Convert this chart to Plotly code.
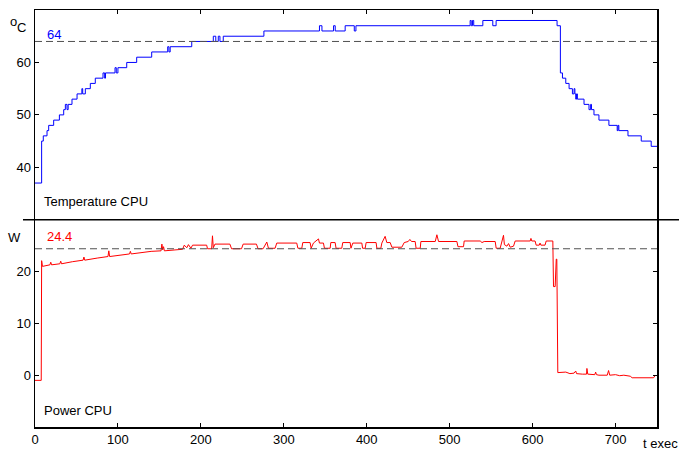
import plotly.graph_objects as go

# ---- data ----
temp_t = [0, 8, 10, 14.5, 16.5, 22.5, 29.4, 34.6, 36.6, 38.6, 40, 44.6, 50.7, 56.5, 57.5, 60.7,
          66.7, 72.7, 82, 84, 85, 96.5, 98, 100, 110.6, 122.6, 140.7, 160, 161.5, 163, 189,
          215, 218, 221, 223, 227, 276, 343, 346, 360, 362, 374, 385, 387, 524.7, 526, 527.5,
          529, 540, 552, 556, 629.5, 633.5, 636, 640, 644, 648, 650, 651, 652, 653, 654, 662,
          668, 670, 671, 674, 680, 692, 702, 703, 704, 715, 731, 743, 750]
temp_v = [37, 45, 46, 47, 48, 49, 50, 51, 52, 51, 52, 53, 54, 55, 54, 55,
          56, 57, 58, 57, 58, 59, 58, 59, 60, 61, 62, 63, 62, 63, 64,
          65, 64, 65, 64, 65, 66, 67, 66, 67, 66, 67, 66, 67, 68, 67, 68,
          67, 68, 67, 68, 67, 58, 57, 56, 55, 54, 55, 54, 53, 54, 53, 52,
          51, 52, 51, 50, 49, 48, 47, 48, 47, 46, 45, 44, 44]

power_t = [0, 7.5, 8, 9, 18, 19, 20, 30, 31, 32, 45, 58, 59, 60, 75, 88, 89, 90, 114, 115, 116,
           130, 140, 152, 153, 154, 155, 156, 178, 180, 183, 185, 188, 190, 207, 208, 213, 214,
           215, 217, 235, 237, 249, 251, 267, 269, 275, 279.5, 281.5, 289.5, 291.5,
           315.6, 317, 321.7, 322.9, 331.7, 333, 335.7, 341.8, 343, 347.8, 349, 355.9, 356.7,
           361.9, 363, 369.9, 371.1, 380, 381, 383.2, 394.1, 395, 398.1, 399.3, 411.3, 412.2,
           417, 418.2, 422.2, 424.2, 428.3, 430.3, 442.3, 445.2, 450, 452, 454, 458.4, 459.5,
           464.5, 465.3, 482.6, 484.6, 486.6, 508.7, 510, 516.7, 517.5, 536.8, 539, 541.6,
           554.9, 556.1, 560.9, 564.9, 566, 569, 571, 573, 577, 579, 597.1, 598, 599, 603,
           604.3, 608, 609, 610, 615, 616.4, 624.4, 625.2, 627.2, 628.5, 629.2, 630.4, 640,
           645, 650, 652, 653, 660, 665, 665.5, 666.5, 675, 676, 677, 680, 690, 691.6, 693,
           700, 705, 710, 717.8, 720, 745.9, 748]
power_v = [-1, -1, 22.1, 21.0, 21.3, 21.8, 21.3, 21.5, 22.0, 21.5, 21.9, 22.2, 22.8, 22.2, 22.6,
           22.9, 24.0, 22.9, 23.4, 23.9, 23.4, 23.7, 23.9, 24.0, 25.3, 24.2, 24.8, 24.0, 24.3,
           25.1, 24.6, 25.2, 24.5, 25.1, 25.1, 24.4, 24.4, 26.9, 24.6, 25.3, 25.3, 24.4, 24.4,
           25.3, 25.3, 24.4, 24.4, 25.7, 24.5, 24.5, 25.5,
           25.5, 24.5, 24.5, 25.6, 25.6, 24.5, 25.5, 26.3, 25.5, 25.5, 24.5, 24.5, 25.6,
           25.6, 24.5, 24.5, 25.6, 25.6, 24.5, 25.5, 25.5, 24.5, 24.5, 25.6, 25.6, 24.5,
           24.5, 25.5, 26.8, 25.6, 25.6, 24.7, 24.7, 25.6, 25.8, 26.2, 25.8, 25.8, 24.5,
           24.5, 25.8, 25.8, 27.1, 25.8, 25.8, 24.8, 24.8, 25.9, 25.9, 25.6, 25.8,
           25.8, 24.5, 24.5, 27.0, 25.2, 24.9, 25.4, 24.7, 24.9, 25.9, 25.9, 26.4, 25.9, 25.9,
           25.1, 25.1, 25.5, 25.1, 25.1, 25.9, 25.9, 17.1, 17.1, 22.4, 22.4, 0.5, 0.6,
           0.3, 0.4, 0.8, 0.3, 0.2, 0.2, 1.3, 0.2, 0.1, 0.6, 0.1, 0.0, 0.0, 0.9, 0.0,
           0.1, -0.1, 0.0, -0.2, -0.5, -0.5, 0.0]

temp_ref = 64
power_ref = 24.4
x_ticks = [0, 100, 200, 300, 400, 500, 600, 700]
temp_ticks = [40, 50, 60]
power_ticks = [0, 10, 20]

FONT = "Liberation Sans, Arial, sans-serif"
FS = 13

fig = go.Figure()
fig.add_trace(go.Scatter(x=temp_t, y=temp_v, mode="lines", line=dict(color="#0000ff", width=1, shape="hv"),
                         xaxis="x", yaxis="y", showlegend=False, hoverinfo="skip"))
fig.add_trace(go.Scatter(x=power_t, y=power_v, mode="lines", line=dict(color="#ff0000", width=1),
                         xaxis="x2", yaxis="y2", showlegend=False, hoverinfo="skip"))

split = 0.497
axcommon = dict(showgrid=False, zeroline=False, showline=True, linecolor="black", linewidth=1.5,
                ticks="inside", ticklen=4, tickcolor="black", tickwidth=1, automargin=False,
                tickfont=dict(family=FONT, size=FS, color="black"))

fig.update_layout(
    width=679, height=451,
    margin=dict(l=35, r=22, t=10, b=24),
    paper_bgcolor="white", plot_bgcolor="white",
    xaxis=dict(axcommon, range=[0, 750], tickvals=x_ticks, side="top", showticklabels=False,
               anchor="y", mirror=False),
    yaxis=dict(axcommon, range=[30, 70], tickvals=temp_ticks, domain=[split, 1], mirror="ticks",
               anchor="x"),
    xaxis2=dict(axcommon, range=[0, 750], tickvals=x_ticks, anchor="y2", mirror=False),
    yaxis2=dict(axcommon, range=[-10, 30], tickvals=power_ticks, domain=[0, split], mirror="ticks",
                anchor="x2"),
)

dash = dict(color="#505050", width=1, dash="7px,4px")
fig.add_shape(type="line", xref="x", yref="y", x0=0, x1=750, y0=temp_ref, y1=temp_ref, line=dash)
fig.add_shape(type="line", xref="x2", yref="y2", x0=0, x1=750, y0=power_ref, y1=power_ref, line=dash)
# separator between panels
fig.add_shape(type="line", xref="paper", yref="paper", x0=-0.0193, x1=1.04, y0=split, y1=split,
              line=dict(color="black", width=1.5))

def ann(text, x, y, xref, yref, color="black", xanchor="left", yanchor="middle"):
    fig.add_annotation(text=text, x=x, y=y, xref=xref, yref=yref, showarrow=False,
                       xanchor=xanchor, yanchor=yanchor,
                       font=dict(family=FONT, size=FS, color=color))

ann(str(temp_ref), 12, 65.3, "x", "y", color="#0000ff")
ann(str(power_ref), 12, 26.7, "x2", "y2", color="#ff0000")
ann("Temperature CPU", 9, 33.5, "x", "y")
ann("Power CPU", 9, -6.8, "x2", "y2")
ann("o", -0.0434, 0.9736, "paper", "paper")
ann("C", -0.0322, 0.958, "paper", "paper")
ann("W", -0.033, 0.4544, "paper", "paper", xanchor="center")
ann("t exec", 1.005, -0.039, "paper", "paper", xanchor="center")

fig.write_html("out.html", config={"displayModeBar": False, "staticPlot": True},
               post_script="document.body.style.margin='0';document.body.style.padding='0';")
